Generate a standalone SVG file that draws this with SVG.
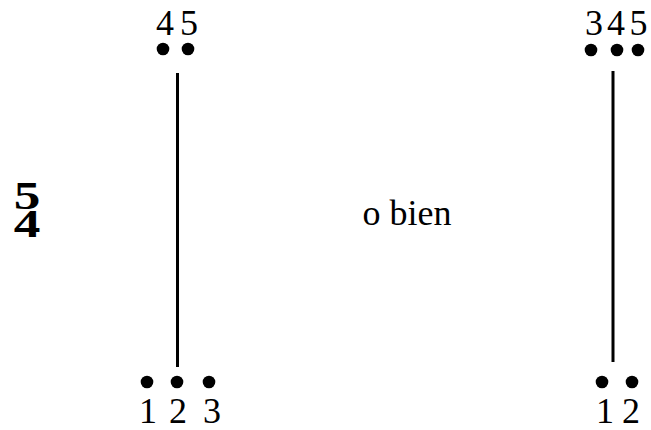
<svg xmlns="http://www.w3.org/2000/svg" width="651" height="430" viewBox="0 0 651 430">
<style>
text{font-family:'Liberation Serif','DejaVu Serif',serif;fill:#000;text-anchor:middle}
.t{font-size:36px}
.b{font-size:41px;font-weight:bold}
.d{fill:#000}
.l{stroke:#000;stroke-width:3;fill:none}
</style>
<rect width="651" height="430" fill="#fff"/>
<g id="timesig" transform="translate(27,0) scale(1.3,1)">
<text class="b" x="0" y="209">5</text>
<text class="b" x="0" y="237">4</text>
</g>
<g id="left-top">
<circle class="d" cx="163" cy="49" r="6.3"/>
<circle class="d" cx="188" cy="49" r="6.3"/>
<text class="t" x="165" y="35">4</text>
<text class="t" x="189" y="35">5</text>
</g>
<g id="left-bottom">
<circle class="d" cx="147" cy="382" r="6.3"/>
<circle class="d" cx="177" cy="382" r="6.3"/>
<circle class="d" cx="209" cy="382" r="6.3"/>
<text class="t" x="148" y="423">1</text>
<text class="t" x="178" y="423">2</text>
<text class="t" x="212" y="423">3</text>
</g>
<g id="right-top">
<circle class="d" cx="591" cy="50" r="6.3"/>
<circle class="d" cx="617" cy="50" r="6.3"/>
<circle class="d" cx="638" cy="50" r="6.3"/>
<text class="t" x="594" y="35">3</text>
<text class="t" x="616" y="35">4</text>
<text class="t" x="638.5" y="35">5</text>
</g>
<g id="right-bottom">
<circle class="d" cx="602" cy="382" r="6.3"/>
<circle class="d" cx="632" cy="382" r="6.3"/>
<text class="t" x="605" y="423">1</text>
<text class="t" x="631" y="423">2</text>
</g>
<g id="label">
<text class="t" x="407" y="225">o bien</text>
</g>
<g id="connectors">
<line class="l" x1="177.5" y1="73" x2="177.5" y2="367"/>
<line class="l" x1="613" y1="71" x2="613" y2="362"/>
</g>
</svg>
